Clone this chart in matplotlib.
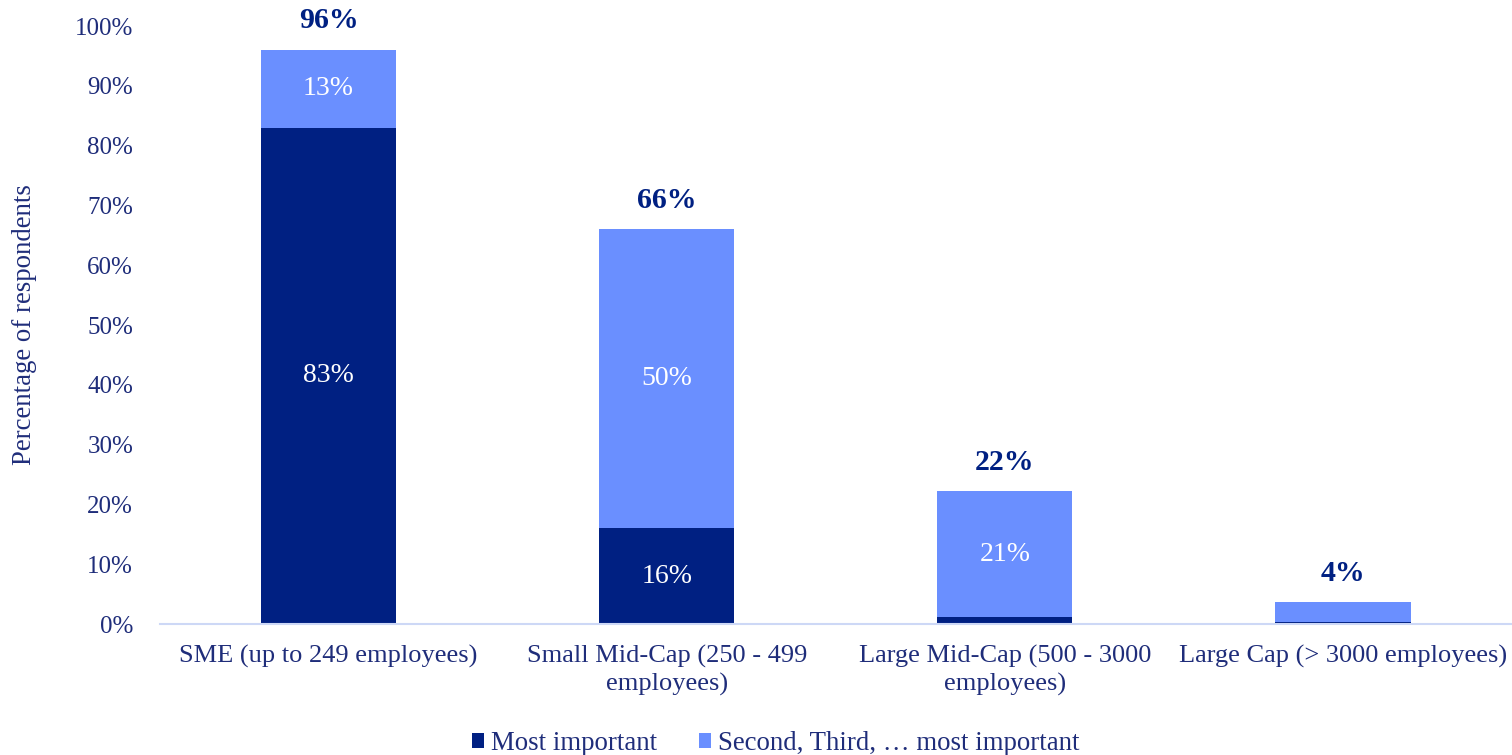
import numpy as np
import matplotlib.pyplot as plt

# data
categories = ['SME (up to 249 employees)', 'Small Mid-Cap (250 - 499\nemployees)',
              'Large Mid-Cap (500 - 3000\nemployees)', 'Large Cap (> 3000 employees)']
most_important = [83, 16, 1.2, 0.4]
other_important = [13, 50, 21, 3.2]
inner_labels_most = ['83%', '16%', '', '']
inner_labels_other = ['13%', '50%', '21%', '']
total_labels = ['96%', '66%', '22%', '4%']

DARK = '#002082'
LIGHT = '#6A8FFF'
TEXT = '#1F2D7A'

plt.rcParams['font.family'] = ['Liberation Serif', 'DejaVu Serif']

fig = plt.figure(figsize=(15.12, 7.55), dpi=100)
ax = fig.add_axes([0.1055, 0.1735, 0.8945, 0.792])

x = np.arange(len(categories))
width = 0.4
b1 = ax.bar(x, most_important, width, color=DARK, label='Most important')
b2 = ax.bar(x, other_important, width, bottom=most_important, color=LIGHT,
            label='Second, Third, … most important')

ax.bar_label(b1, labels=inner_labels_most, label_type='center', color='white', fontsize=20)
ax.bar_label(b2, labels=inner_labels_other, label_type='center', color='white', fontsize=20)

tops = np.array(most_important) + np.array(other_important)
for xi, top, lab in zip(x, tops, total_labels):
    ax.annotate(lab, (xi, top), xytext=(0, 21), textcoords='offset points',
                ha='center', va='center', fontsize=21.5, fontweight='bold', color=DARK)

ax.set_xlim(-0.5, 3.5)
ax.set_ylim(0, 100)
ax.set_yticks(np.arange(0, 101, 10))
ax.set_yticklabels([f'{v}%' for v in range(0, 101, 10)], fontsize=18)
ax.set_xticks(x)
ax.set_xticklabels(categories, fontsize=19, linespacing=1.27)
ax.tick_params(axis='both', length=0, colors=TEXT)
ax.tick_params(axis='y', pad=19)
ax.tick_params(axis='x', pad=15)
ax.set_ylabel('Percentage of respondents', fontsize=19.3, color=TEXT, labelpad=27)

for s in ['top', 'right', 'left']:
    ax.spines[s].set_visible(False)
ax.spines['bottom'].set_color('#CDD8F6')
ax.spines['bottom'].set_linewidth(1.5)

fig.legend(loc='center', bbox_to_anchor=(0.513, 0.015), ncol=2, frameon=False,
           fontsize=19.3, labelcolor=TEXT, handlelength=0.45, handleheight=0.45,
           handletextpad=0.25, columnspacing=1.55)

fig.savefig('out.png', dpi=100)
